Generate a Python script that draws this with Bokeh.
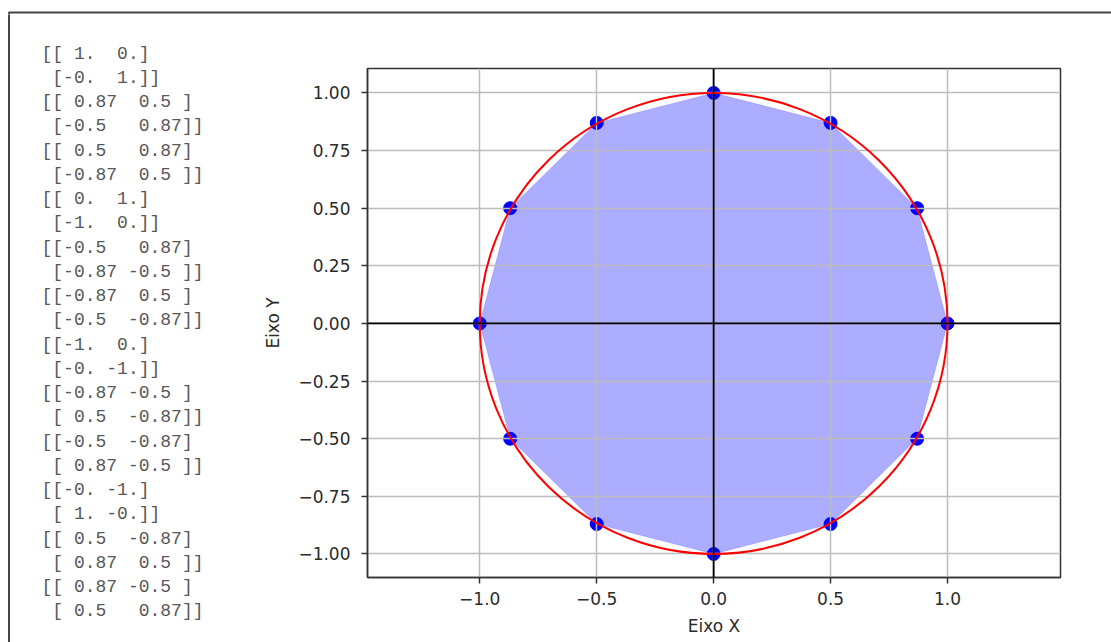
from bokeh.plotting import figure
from bokeh.layouts import column, row
from bokeh.models import Range1d, FixedTicker, Span
from bokeh.core.properties import value
from bokeh.embed import file_html
from bokeh.resources import INLINE

# ---- data ----
px = [1.0, 0.87, 0.5, 0.0, -0.5, -0.87, -1.0, -0.87, -0.5, 0.0, 0.5, 0.87]
py = [0.0, 0.5, 0.87, 1.0, 0.87, 0.5, 0.0, -0.5, -0.87, -1.0, -0.87, -0.5]

x_ticks = [-1.0, -0.5, 0.0, 0.5, 1.0]
x_tick_labels = ["\u22121.0", "\u22120.5", "0.0", "0.5", "1.0"]
y_ticks = [-1.0, -0.75, -0.5, -0.25, 0.0, 0.25, 0.5, 0.75, 1.0]
y_tick_labels = ["\u22121.00", "\u22120.75", "\u22120.50", "\u22120.25", "0.00",
                 "0.25", "0.50", "0.75", "1.00"]

matrix_lines = [
    "[[ 1.  0.]", " [-0.  1.]]",
    "[[ 0.87  0.5 ]", " [-0.5   0.87]]",
    "[[ 0.5   0.87]", " [-0.87  0.5 ]]",
    "[[ 0.  1.]", " [-1.  0.]]",
    "[[-0.5   0.87]", " [-0.87 -0.5 ]]",
    "[[-0.87  0.5 ]", " [-0.5  -0.87]]",
    "[[-1.  0.]", " [-0. -1.]]",
    "[[-0.87 -0.5 ]", " [ 0.5  -0.87]]",
    "[[-0.5  -0.87]", " [ 0.87 -0.5 ]]",
    "[[-0. -1.]", " [ 1. -0.]]",
    "[[ 0.5  -0.87]", " [ 0.87  0.5 ]]",
    "[[ 0.87 -0.5 ]", " [ 0.5   0.87]]",
]

x_label = "Eixo X"
y_label = "Eixo Y"

TOTAL_W, TOTAL_H = 1111, 642
STRIP_H = 14
LEFT_W = 260
BORDER_COLOR = "#444444"


def bare(width, height, xr, yr):
    f = figure(width=width, height=height, output_backend="svg",
               toolbar_location=None, x_range=xr, y_range=yr,
               min_border=0, x_axis_type=None, y_axis_type=None)
    f.outline_line_color = None
    f.grid.visible = False
    f.background_fill_color = "white"
    f.border_fill_color = "white"
    f.frame_align = False
    return f


# ---- top strip: top edge of the screenshot frame ----
strip = bare(TOTAL_W, STRIP_H, Range1d(0, TOTAL_W), Range1d(STRIP_H, 0))
strip.segment(x0=[8], y0=[12], x1=[TOTAL_W + 5], y1=[12],
              line_color=BORDER_COLOR, line_width=2)
strip.segment(x0=[8.5], y0=[12], x1=[8.5], y1=[STRIP_H + 2],
              line_color=BORDER_COLOR, line_width=2)

# ---- left panel: printed matrices ----
body_h = TOTAL_H - STRIP_H
txt = bare(LEFT_W, body_h, Range1d(0, LEFT_W), Range1d(body_h, 0))
txt.segment(x0=[8.5], y0=[-2], x1=[8.5], y1=[body_h + 2],
            line_color=BORDER_COLOR, line_width=2)
ty = [53 + 24.26 * i - STRIP_H for i in range(len(matrix_lines))]
txt.text(x=[41] * len(matrix_lines), y=ty,
         text=[s.replace(" ", "\u00a0") for s in matrix_lines],
         text_font=value("Liberation Mono"), text_font_size="18px",
         text_color="#585858", text_baseline="middle", text_align="left")

# ---- main plot ----
p = figure(width=TOTAL_W - LEFT_W, height=body_h, output_backend="svg",
           toolbar_location=None,
           x_range=Range1d(-1.48, 1.483), y_range=Range1d(-1.102, 1.106),
           min_border_left=367 - LEFT_W, min_border_right=TOTAL_W - 1060,
           min_border_top=68 - STRIP_H, min_border_bottom=TOTAL_H - 577)
p.frame_align = False
p.background_fill_color = "white"
p.border_fill_color = "white"
p.outline_line_color = "#333333"
p.outline_line_width = 1.5

for g in (p.xgrid, p.ygrid):
    g.grid_line_color = "#bdbdbd"
    g.grid_line_width = 1.5
    g.level = "glyph"
p.xgrid.ticker = FixedTicker(ticks=x_ticks)
p.ygrid.ticker = FixedTicker(ticks=y_ticks)

p.xaxis.ticker = FixedTicker(ticks=x_ticks)
p.yaxis.ticker = FixedTicker(ticks=y_ticks)
p.xaxis.major_label_overrides = dict(zip(x_ticks, x_tick_labels))
p.yaxis.major_label_overrides = dict(zip(y_ticks, y_tick_labels))
for ax in (p.xaxis, p.yaxis):
    ax.axis_line_color = "#333333"
    ax.axis_line_width = 1.5
    ax.major_tick_line_color = "#333333"
    ax.major_tick_line_width = 1.5
    ax.major_tick_out = 6
    ax.major_tick_in = 0
    ax.minor_tick_line_color = None
    ax.major_label_text_font = "DejaVu Sans"
    ax.major_label_text_font_size = "17px"
    ax.major_label_text_color = "#2b2b2b"
    ax.axis_label_text_font = "DejaVu Sans"
    ax.axis_label_text_font_size = "17px"
    ax.axis_label_text_font_style = "normal"
    ax.axis_label_text_color = "#2b2b2b"
p.xaxis.axis_label = x_label
p.yaxis.axis_label = y_label
p.xaxis.major_label_standoff = 8
p.xaxis.axis_label_standoff = 8
p.yaxis.major_label_standoff = 11
p.yaxis.axis_label_standoff = 12

p.patch(px, py, fill_color="blue", fill_alpha=0.32, line_color="blue",
        line_alpha=0.15, line_width=1)
p.ellipse(x=[0], y=[0], width=[2], height=[2], fill_alpha=0,
          line_color="red", line_width=2, level="annotation")
p.scatter(px, py, size=13, color="blue")

p.add_layout(Span(location=0, dimension="height", line_color="black", line_width=1.8))
p.add_layout(Span(location=0, dimension="width", line_color="black", line_width=1.8))

layout = column(strip, row(txt, p, spacing=0), spacing=0)

open("out.html", "w").write(file_html(layout, INLINE))
